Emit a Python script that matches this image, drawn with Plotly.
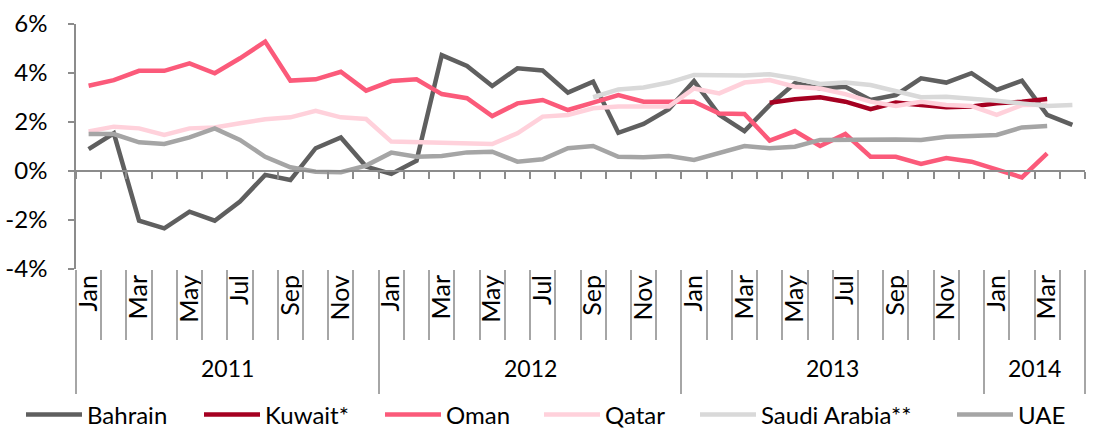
import plotly.graph_objects as go

# ---- data ----
month_names = ["Jan", "Feb", "Mar", "Apr", "May", "Jun",
               "Jul", "Aug", "Sep", "Oct", "Nov", "Dec"]
years = ["2011", "2012", "2013", "2014"]
months_per_year = [12, 12, 12, 4]
y_tick_vals = [-4, -2, 0, 2, 4, 6]
y_tick_text = ["-4%", "-2%", "0%", "2%", "4%", "6%"]

bahrain = [0.89, 1.54, -2.03, -2.34, -1.66, -2.03, -1.25, -0.16, -0.37, 0.93, 1.37, 0.18,
           -0.12, 0.42, 4.73, 4.29, 3.47, 4.19, 4.10, 3.20, 3.65, 1.56, 1.92, 2.52,
           3.67, 2.29, 1.63, 2.69, 3.58, 3.37, 3.44, 2.90, 3.10, 3.78, 3.61, 3.99,
           3.31, 3.69, 2.29, 1.88]
kuwait = [None] * 12 + [None] * 12 + \
         [None, None, None, 2.79, 2.93, 3.01, 2.83, 2.52, 2.79, 2.69, 2.60, 2.63,
          2.76, 2.83, 2.94, None]
oman = [3.48, 3.71, 4.09, 4.09, 4.39, 3.99, 4.60, 5.28, 3.69, 3.74, 4.05, 3.28,
        3.67, 3.74, 3.14, 2.97, 2.24, 2.76, 2.90, 2.49, 2.79, 3.10, 2.83, 2.83,
        2.83, 2.35, 2.33, 1.24, 1.63, 1.02, 1.51, 0.58, 0.58, 0.29, 0.53, 0.38,
        0.04, -0.26, 0.72, None]
qatar = [1.61, 1.81, 1.74, 1.47, 1.74, 1.78, 1.95, 2.11, 2.19, 2.46, 2.19, 2.12,
         1.20, 1.17, 1.16, 1.10, 1.10, 1.54, 2.22, 2.29, 2.56, 2.63, 2.63, 2.63,
         3.37, 3.17, 3.61, 3.71, 3.44, 3.37, 3.14, 2.83, 2.65, 2.83, 2.69, 2.65,
         2.29, 2.69, 2.70, None]
saudi = [None] * 12 + \
        [None, None, None, None, None, None, None, None, 3.01, 3.33, 3.41, 3.61,
         3.92, 3.90, 3.90, 3.95, 3.78, 3.55, 3.61, 3.51, 3.24, 3.01, 3.03, 2.97,
         2.87, 2.76, 2.65, 2.69]
uae = [1.51, 1.51, 1.17, 1.10, 1.37, 1.74, 1.27, 0.58, 0.15, -0.03, -0.05, 0.22,
       0.75, 0.58, 0.61, 0.76, 0.79, 0.38, 0.48, 0.93, 1.02, 0.58, 0.56, 0.61,
       0.45, 0.75, 1.02, 0.93, 0.99, 1.27, 1.29, 1.29, 1.29, 1.27, 1.40, 1.43,
       1.47, 1.78, 1.84, None]

series_names = ["Bahrain", "Kuwait*", "Oman", "Qatar", "Saudi Arabia**", "UAE"]
series_values = [bahrain, kuwait, oman, qatar, saudi, uae]
series_colors = ["#5F5F5F", "#A50021", "#FB5A7A", "#FFD1DB", "#D9D9D9", "#A5A5A5"]
# legend entry left edges (pixels) as laid out in the original
legend_px = [27, 205, 386, 545, 701, 958]

# ---- categories ----
cats, cat_month, cat_year = [], [], []
for y, n in zip(years, months_per_year):
    for m in month_names[:n]:
        cats.append(f"{m} {y}")
        cat_month.append(m)
        cat_year.append(y)
n_cat = len(cats)

W, H = 1094, 432
ML, MR, MT, MB = 76, 9, 24, 163

font_family = "Lato, 'Open Sans', sans-serif"
axis_col = "#8C8C8C"
sep_col = "#A6A6A6"

fig = go.Figure()
legend_layouts = {}
for k, (name, vals, col, lpx) in enumerate(zip(series_names, series_values,
                                              series_colors, legend_px)):
    lname = "legend" if k == 0 else f"legend{k + 1}"
    fig.add_trace(go.Scatter(x=cats, y=vals, name=name, mode="lines",
                             line=dict(color=col, width=4.5),
                             connectgaps=False, legend=lname))
    legend_layouts[lname] = dict(
        orientation="h", xref="container", yref="container",
        x=(lpx - 6) / W, xanchor="left",
        y=1 - 415 / H, yanchor="middle",
        font=dict(size=24), itemwidth=56, bgcolor="rgba(0,0,0,0)",
        borderwidth=0)

y_min, y_max = -4, 6
zero_pos = (0 - y_min) / (y_max - y_min)

bounds = [-0.5]
acc = -0.5
for n in months_per_year:
    acc += n
    bounds.append(acc)

fig.update_layout(
    width=W, height=H,
    margin=dict(l=ML, r=MR, t=MT, b=MB, autoexpand=False),
    paper_bgcolor="white", plot_bgcolor="white",
    font=dict(family=font_family, size=24, color="#000000"),
    showlegend=True,
    xaxis=dict(type="category", categoryorder="array", categoryarray=cats,
               range=[-0.5, n_cat - 0.5], automargin=False,
               tickmode="array", tickvals=cats[::2], ticktext=cat_month[::2],
               tickangle=-90, ticks="", showline=False, showgrid=False,
               zeroline=False, tickfont=dict(size=25)),
    xaxis2=dict(overlaying="x", anchor="free", position=zero_pos,
                range=[-0.5, n_cat - 0.5], tickmode="linear", tick0=-0.5, dtick=1,
                ticks="outside", ticklen=7, tickwidth=1.5, tickcolor=axis_col,
                showline=True, linecolor=axis_col, linewidth=2,
                showticklabels=False, showgrid=False, zeroline=False),
    xaxis3=dict(overlaying="x", anchor="y", side="bottom",
                range=[-0.5, n_cat - 0.5], tickmode="linear", tick0=-0.5, dtick=1,
                ticks="outside", ticklen=70, tickwidth=1.5, tickcolor=sep_col,
                showline=False, showticklabels=False, showgrid=False, zeroline=False),
    xaxis4=dict(overlaying="x", anchor="y", side="bottom",
                range=[-0.5, n_cat - 0.5], tickmode="array", tickvals=bounds,
                ticks="outside", ticklen=124, tickwidth=1.5, tickcolor=sep_col,
                showline=False, showticklabels=False, showgrid=False, zeroline=False),
    yaxis=dict(range=[y_min, y_max], tickmode="array", tickvals=y_tick_vals,
               ticktext=y_tick_text, automargin=False,
               showline=True, linecolor=axis_col, linewidth=1.5,
               ticks="outside", ticklen=6, tickcolor=axis_col, tickwidth=1.5,
               ticklabelstandoff=16,
               showgrid=False, zeroline=False, tickfont=dict(size=24)),
    **legend_layouts,
)

for ax in ["x2", "x3", "x4"]:
    fig.add_trace(go.Scatter(x=[-0.5, n_cat - 0.5], y=[None, None], xaxis=ax,
                             mode="lines", showlegend=False, hoverinfo="skip"))

for y in years:
    idx = [i for i, yy in enumerate(cat_year) if yy == y]
    center = (idx[0] + idx[-1]) / 2
    fig.add_annotation(x=center, xref="x", y=-0.404, yref="paper",
                       text=y, showarrow=False, font=dict(size=23),
                       xanchor="center", yanchor="middle")

fig.write_html("out.html",
               config={"displayModeBar": False},
               post_script="document.body.style.margin='0';"
                           "document.body.style.overflow='hidden';")
